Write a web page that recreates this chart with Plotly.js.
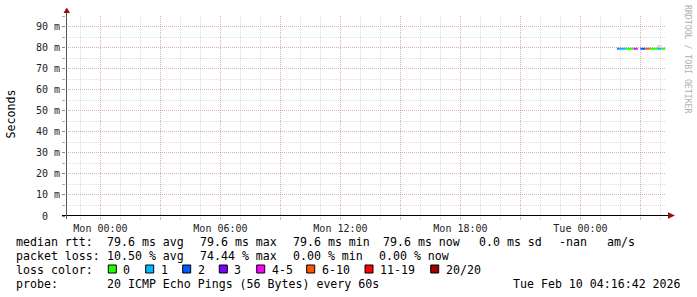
<!DOCTYPE html>
<html>
<head>
<meta charset="utf-8">
<script src="https://cdn.plot.ly/plotly-3.0.1.min.js"></script>
<style>html,body{margin:0;padding:0;background:#fff;}#chart{width:697px;height:297px;}</style>
</head>
<body>
<div id="chart"></div>
<script>
// ---------------- data ----------------
const segmentStart = ['2026-02-10 01:50','2026-02-10 01:55','2026-02-10 02:15','2026-02-10 02:40','2026-02-10 03:00','2026-02-10 03:15','2026-02-10 03:28','2026-02-10 03:52','2026-02-10 04:03'];
const segmentEnd   = ['2026-02-10 01:55','2026-02-10 02:15','2026-02-10 02:40','2026-02-10 02:52','2026-02-10 03:15','2026-02-10 03:28','2026-02-10 03:52','2026-02-10 04:03','2026-02-10 04:15'];
const medianRtt    = [0.0796,0.0796,0.0796,0.0796,0.0796,0.0796,0.0796,0.0796,0.0796];
const lossPings    = [2,1,0,5,2,8,0,1,0];

const smokeTime = ['2026-02-10 03:50','2026-02-10 04:03'];
const smokeLow  = [0.0796,0.0796];
const smokeHigh = [0.0814,0.0814];

const lossLabels = ['0','1','2','3','4-5','6-10','11-19','20/20'];
const lossColors = ['#26ff00','#00b8ff','#0059ff','#7e00ff','#ff00ff','#ff5500','#ff0000','#a10000'];

const yTickValues = [0,0.01,0.02,0.03,0.04,0.05,0.06,0.07,0.08,0.09];
const yTickLabels = ['0&nbsp;&nbsp;','10 m','20 m','30 m','40 m','50 m','60 m','70 m','80 m','90 m'];
const xTickTimes  = ['2026-02-09 00:00','2026-02-09 03:00','2026-02-09 06:00','2026-02-09 09:00','2026-02-09 12:00','2026-02-09 15:00','2026-02-09 18:00','2026-02-09 21:00','2026-02-10 00:00','2026-02-10 03:00'];
const xTickLabels = ['Mon 00:00','','Mon 06:00','','Mon 12:00','','Mon 18:00','','Tue 00:00',''];
const xRange = ['2026-02-08 22:16:42','2026-02-10 04:16:42'];

const statsRtt  = ['median rtt:','79.6 ms avg','79.6 ms max','79.6 ms min','79.6 ms now','0.0 ms sd','-nan','am/s'];
const statsLoss = ['packet loss:','10.50 % avg','74.44 % max','0.00 % min','0.00 % now'];
const probeText = ['probe:','20 ICMP Echo Pings (56 Bytes) every 60s','Tue Feb 10 04:16:42 2026'];

// ---------------- geometry ----------------
const L = 66, PW = 600, T = 16, PH = 200, BOT = T + PH;
const px = x => (x - L) / PW;
const py = y => (BOT - y) / PH;
const MONO = 'DejaVu Sans Mono';

function lossCat(n){
  if (n <= 3) return n;
  if (n <= 5) return 4;
  if (n <= 10) return 5;
  if (n <= 19) return 6;
  return 7;
}

const traces = [];
traces.push({
  x: [smokeTime[0], smokeTime[1], smokeTime[1], smokeTime[0]],
  y: [smokeLow[0], smokeLow[1], smokeHigh[1], smokeHigh[0]],
  type: 'scatter', mode: 'lines', fill: 'toself', fillcolor: '#dcdcdc',
  line: {width: 0}, hoverinfo: 'skip', showlegend: false
});
for (let c = 0; c < lossColors.length; c++) {
  const xs = [], ys = [];
  for (let i = 0; i < segmentStart.length; i++) {
    if (lossCat(lossPings[i]) === c) {
      xs.push(segmentStart[i], segmentEnd[i], null);
      ys.push(medianRtt[i], medianRtt[i], null);
    }
  }
  if (xs.length) traces.push({x: xs, y: ys, type: 'scatter', mode: 'lines',
    line: {color: lossColors[c], width: 2}, connectgaps: false, hoverinfo: 'skip', showlegend: false});
}

// ---------------- annotations ----------------
const ann = [];
function txt(s, x, y, opts) {
  ann.push(Object.assign({text: s, xref: 'paper', yref: 'paper', x: px(x), y: py(y),
    xanchor: 'left', yanchor: 'middle', showarrow: false, borderpad: 0, borderwidth: 0,
    font: {family: MONO, size: 11.6, color: '#000'}}, opts || {}));
}
const rttX = [16,107.3,200,293.3,383.3,479.3,559.3,606.7];
statsRtt.forEach((s,i) => txt(s, rttX[i], 241.5));
const lossX = [16,107.3,200,293.3,379.3];
statsLoss.forEach((s,i) => txt(s, lossX[i], 255.5));
txt('loss color:', 16, 269.5);
txt(probeText[0], 16, 283.5);
txt(probeText[1], 107.3, 283.5);
txt(probeText[2], 681, 283.5, {xanchor: 'right'});
txt('Seconds', 10.5, 114, {xanchor: 'center', textangle: -90});
txt('RRDTOOL / TOBI OETIKER', 688, 59, {xanchor: 'center', textangle: 90,
  font: {family: MONO, size: 8.2, color: '#b0b0b0'}});

const shapes = [];
const boxX = [108.3,145.7,182.7,219.3,256.7,306.7,365,430.7];
lossLabels.forEach((lab, i) => {
  shapes.push({type: 'rect', xref: 'paper', yref: 'paper', x0: px(boxX[i]), x1: px(boxX[i] + 8),
    y0: py(265), y1: py(273), fillcolor: lossColors[i], line: {color: '#000', width: 1}});
  txt(lab, boxX[i] + 15, 269.5);
});
// axes with arrows
shapes.push({type: 'line', xref: 'paper', yref: 'paper', x0: px(62), x1: px(669), y0: py(215.5), y1: py(215.5),
  line: {color: '#000', width: 1}, layer: 'above'});
shapes.push({type: 'line', xref: 'paper', yref: 'paper', x0: px(66.5), x1: px(66.5), y0: py(219), y1: py(12),
  line: {color: '#555', width: 1}, layer: 'above'});
shapes.push({type: 'path', xref: 'paper', yref: 'paper', layer: 'above',
  path: `M ${px(63.5)} ${py(13)} L ${px(70)} ${py(13)} L ${px(66.75)} ${py(7.5)} Z`,
  fillcolor: '#8f1010', line: {width: 0}});
shapes.push({type: 'path', xref: 'paper', yref: 'paper', layer: 'above',
  path: `M ${px(668)} ${py(212.3)} L ${px(668)} ${py(218.7)} L ${px(675)} ${py(215.5)} Z`,
  fillcolor: '#8f1010', line: {width: 0}});

const majorGrid = 'rgba(222,80,80,0.32)';
const minorGrid = 'rgba(143,143,143,0.3)';

const layout = {
  width: 697, height: 297,
  margin: {l: L, r: 697 - L - PW, t: T, b: 297 - BOT, pad: 0},
  paper_bgcolor: '#fff', plot_bgcolor: '#fff',
  showlegend: false,
  xaxis: {
    type: 'date', range: xRange, tickmode: 'array', tickvals: xTickTimes, ticktext: xTickLabels,
    showgrid: true, gridcolor: majorGrid, griddash: '1px,1px', gridwidth: 1,
    ticks: 'outside', ticklen: 3, tickcolor: majorGrid, showline: false, zeroline: false,
    tickfont: {family: MONO, size: 10, color: '#222'},
    minor: {dtick: 3600000, tick0: '2026-02-09 00:00', showgrid: true, gridcolor: minorGrid,
      griddash: '1px,1px', ticks: 'outside', ticklen: 3, tickcolor: minorGrid},
    fixedrange: true
  },
  yaxis: {
    range: [0, 0.0952], tickmode: 'array', tickvals: yTickValues, ticktext: yTickLabels,
    showgrid: true, gridcolor: majorGrid, griddash: '1px,1px', gridwidth: 1,
    ticks: 'outside', ticklen: 3, tickcolor: '#888', showline: false, zeroline: false,
    tickfont: {family: MONO, size: 10, color: '#222'},
    minor: {dtick: 0.005, tick0: 0, showgrid: true, gridcolor: minorGrid, griddash: '1px,1px',
      ticks: 'outside', ticklen: 3, tickcolor: '#aaa'},
    fixedrange: true
  },
  annotations: ann,
  shapes: shapes
};

Plotly.newPlot('chart', traces, layout, {displayModeBar: false, staticPlot: true});
</script>
</body>
</html>
